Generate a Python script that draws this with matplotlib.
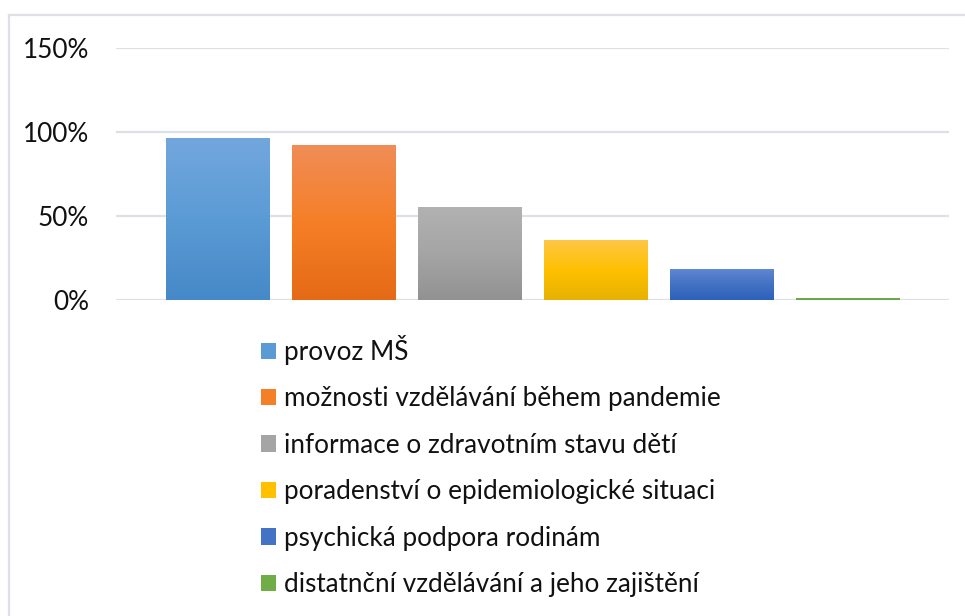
import numpy as np
import matplotlib
matplotlib.use('Agg')
import matplotlib.pyplot as plt
from matplotlib.colors import LinearSegmentedColormap
from matplotlib.lines import Line2D

plt.rcParams['font.family'] = ['Lato', 'DejaVu Sans']

# Data
labels = ['provoz MŠ',
          'možnosti vzdělávání během pandemie',
          'informace o zdravotním stavu dětí',
          'poradenství o epidemiologické situaci',
          'psychická podpora rodinám',
          'distatnční vzdělávání a jeho zajištění']
values = [96.4, 92.3, 55.4, 35.7, 18.5, 1.2]
yticks = [0, 50, 100, 150]

# gradient stops (top, middle, bottom) per bar
colors = [('#72A7DD', '#5B9BD5', '#4689C8'),
          ('#F08D58', '#F57F27', '#E56A16'),
          ('#B2B2B2', '#A5A5A5', '#929292'),
          ('#FEC745', '#FFC000', '#E6B200'),
          ('#6188D3', '#4472C4', '#2D61BC'),
          ('#78B250', '#70AD47', '#66A03F')]

fig = plt.figure(figsize=(9.65, 6.16), dpi=100)
ax = fig.add_axes([116 / 965, 1 - 300 / 616, 833 / 965, 252 / 616])

x = np.arange(len(values))
width = 0.82
bars = ax.bar(x, values, width=width, color=[c[1] for c in colors], zorder=2)

# vertical gradient inside each bar
for b, c in zip(bars, colors):
    cmap = LinearSegmentedColormap.from_list('g', [c[2], c[1], c[0]])
    grad = np.linspace(0, 1, 256).reshape(-1, 1)
    im = ax.imshow(grad, cmap=cmap, aspect='auto', origin='lower',
                   extent=[b.get_x(), b.get_x() + b.get_width(), 0, b.get_height()],
                   zorder=3)
    im.set_clip_path(b)

ax.set_xlim(-0.806, 5.806)
ax.set_ylim(0, 150)
ax.set_yticks(yticks)
ax.set_yticklabels([f'{t}%' for t in yticks], fontsize=18.8, color='#111111')
ax.set_xticks([])
ax.tick_params(axis='y', length=0, pad=19.5)
ax.grid(axis='y', color='#DDE1E6', linewidth=1.6, zorder=0)
for s in ax.spines.values():
    s.set_visible(False)

leg = fig.legend(bars, labels, loc='upper left', bbox_to_anchor=(261 / 965, 1 - 335 / 616),
                 frameon=False, fontsize=18.8, handlelength=0.58, handleheight=0.58,
                 handletextpad=0.3, labelspacing=0.82, borderaxespad=0, borderpad=0)
for t in leg.get_texts():
    t.set_color('#111111')

# chart border (only top and left visible in the frame)
fig.add_artist(Line2D([9 / 965, 1], [1 - 15 / 616] * 2, color='#DDE1E6', linewidth=1.6))
fig.add_artist(Line2D([9 / 965] * 2, [0, 1 - 15 / 616], color='#DDE1E6', linewidth=1.6))

fig.savefig('out.png', dpi=100)
